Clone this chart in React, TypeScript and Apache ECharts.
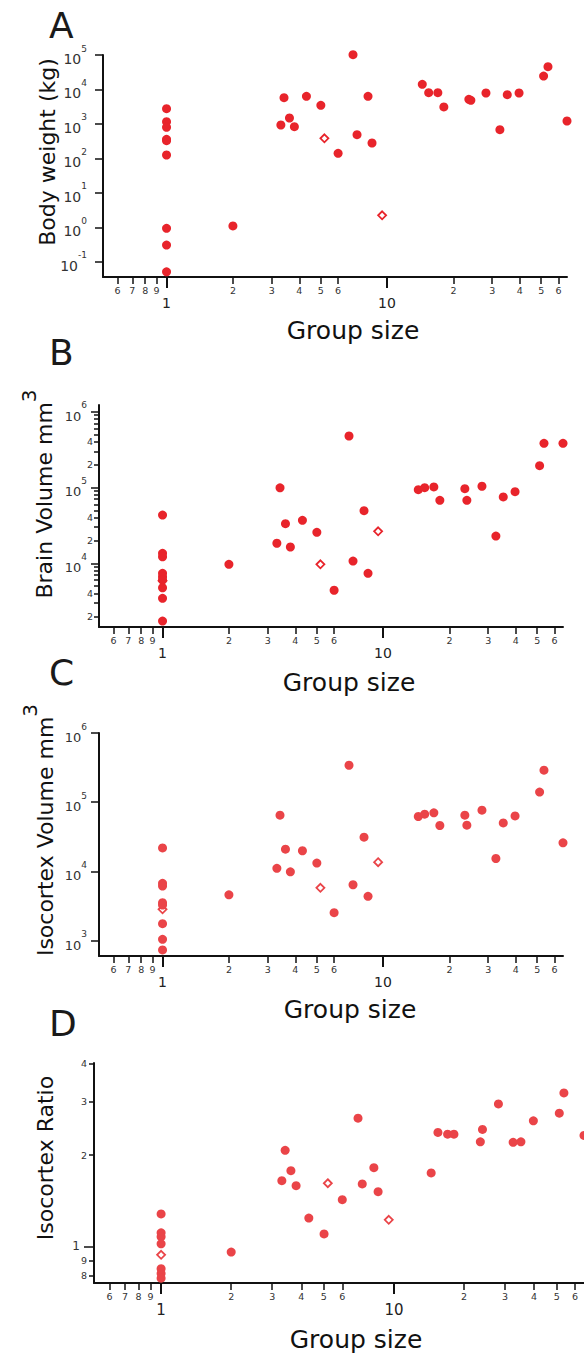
import React, { useEffect, useRef } from "react";
import * as echarts from "echarts";

// Group sizes of the social species (x values shared by all four panels)
const groupSizes = [2, 3.3, 3.41, 3.61, 3.8, 4.31, 5.01, 6.0, 7.01, 7.31, 8.2, 8.55, 14.45, 15.45, 17.0, 18.1, 23.5, 24.0, 28.1, 32.5, 35.1, 39.7, 51.3, 53.7, 65.5];

const bodyWeight = [1.09, 929, 5770, 1483, 830, 6320, 3470, 140, 102000, 486, 6320, 279, 14100, 8060, 8060, 3100, 5180, 4840, 7890, 680, 7050, 7890, 24500, 45700, 1214];
const brainVolume = [9700, 18400, 99000, 33300, 16400, 36900, 25600, 4410, 478000, 10700, 49400, 7380, 93500, 99300, 101600, 67700, 96400, 67700, 103800, 22900, 75000, 88100, 194000, 383000, 383000];
const isocortexVolume = [4600, 11100, 65000, 21000, 9890, 19900, 13200, 2540, 342000, 6430, 31300, 4370, 62200, 67100, 70200, 46100, 65000, 46600, 76700, 15400, 50300, 63500, 140000, 290000, 25900];
const isocortexRatio = [0.958, 1.647, 2.073, 1.776, 1.586, 1.24, 1.1, 1.426, 2.646, 1.607, 1.817, 1.515, 1.746, 2.375, 2.344, 2.344, 2.212, 2.429, 2.948, 2.202, 2.212, 2.593, 2.748, 3.203, 2.321];

// Solitary species (group size 1)
const solitaryGroupSize = 1;
const solitaryBodyWeight = [2760, 1158, 797, 357, 325, 125, 0.93, 0.305, 0.051];
const solitaryBrainVolume = [43300, 13550, 12200, 7380, 6660, 6030, 4760, 3450, 1730];
const solitaryIsocortexVolume = [21900, 6730, 6150, 3530, 3270, 1760, 1047, 735];
const solitaryIsocortexRatio = [1.28, 1.109, 1.076, 1.02, 0.845, 0.814, 0.786];

// Open-diamond species
const openGroupSizes = [1, 5.2, 9.5];
const openBodyWeight = [null, 382, 2.22];
const openBrainVolume = [5900, 9700, 26400];
const openIsocortexVolume = [2840, 5810, 13600];
const openIsocortexRatio = [0.939, 1.615, 1.224];

// Tick values
const xMinorTicks = [0.6, 0.7, 0.8, 0.9, 2, 3, 4, 5, 6, 20, 30, 40, 50, 60];
const xMajorTicks = [1, 10];
const bodyWeightTicks = [0.1, 1, 10, 100, 1000, 10000, 100000];
const brainVolumeTicks = [1e4, 1e5, 1e6];
const brainVolumeMinorTicks = [2e3, 3e3, 4e3, 5e3, 6e3, 7e3, 8e3, 9e3, 2e4, 3e4, 4e4, 5e4, 6e4, 7e4, 8e4, 9e4, 2e5, 3e5, 4e5, 5e5, 6e5, 7e5, 8e5, 9e5];
const brainVolumeMinorLabels = [2e3, 4e3, 2e4, 4e4, 2e5, 4e5];
const isocortexVolumeTicks = [1e3, 1e4, 1e5, 1e6];
const ratioMajorTicks = [1];
const ratioMinorTicks = [0.8, 0.9, 2, 3, 4];

const FONT = "DejaVu Sans";
const INK = "#111";
const LABEL = "#333";
const lg = (v: number) => Math.log10(v);
const mantissa = (v: number) => String(Math.round(Math.pow(10, v - Math.floor(v + 1e-9))));
const power = (v: number) => `{b|10}{s|${Math.round(v)}}`;

type Panel = {
  letter: string;
  yName: string;
  ySup: string;
  grid: { left: number; top: number; width: number; height: number };
  xMin: number;
  xMax: number;
  yMin: number;
  yMax: number;
  values: number[];
  solitary: number[];
  open: (number | null)[];
  color: string;
  yMajor: number[];
  yMajorFmt: (v: number) => string;
  yMajorFont: number;
  yMajorMargin: number;
  yMajorLen: number;
  yMinorTicks?: number[];
  yMinorLabels?: number[];
  yMinorMargin?: number;
  letterPos: [number, number];
  xTitlePos: [number, number];
  yTitlePos: [number, number];
  xBigFont: number;
};

const panels: Panel[] = [
  {
    letter: "A", yName: "Body weight (kg)", ySup: "",
    grid: { left: 103, top: 55, width: 464, height: 222 },
    xMin: 0.515, xMax: 65.5, yMin: 0.036, yMax: 1e5,
    values: bodyWeight, solitary: solitaryBodyWeight, open: openBodyWeight,
    color: "#e8242b",
    yMajor: bodyWeightTicks, yMajorFmt: power, yMajorFont: 14, yMajorMargin: 16, yMajorLen: 8,
    letterPos: [49, 25], xTitlePos: [353, 330], yTitlePos: [40, 152], xBigFont: 14,
  },
  {
    letter: "B", yName: "Brain Volume mm", ySup: "3",
    grid: { left: 99, top: 405, width: 464, height: 222 },
    xMin: 0.515, xMax: 65.5, yMin: 1445, yMax: 1.225e6,
    values: brainVolume, solitary: solitaryBrainVolume, open: openBrainVolume,
    color: "#e8242b",
    yMajor: brainVolumeTicks, yMajorFmt: power, yMajorFont: 13, yMajorMargin: 12, yMajorLen: 8,
    yMinorTicks: brainVolumeMinorTicks, yMinorLabels: brainVolumeMinorLabels, yMinorMargin: 6,
    letterPos: [49, 352], xTitlePos: [349, 682], yTitlePos: [37, 494], xBigFont: 14,
  },
  {
    letter: "C", yName: "Isocortex Volume mm", ySup: "3",
    grid: { left: 99, top: 733, width: 464, height: 223 },
    xMin: 0.515, xMax: 65.5, yMin: 601, yMax: 1e6,
    values: isocortexVolume, solitary: solitaryIsocortexVolume, open: openIsocortexVolume,
    color: "#ea4448",
    yMajor: isocortexVolumeTicks, yMajorFmt: power, yMajorFont: 13, yMajorMargin: 12, yMajorLen: 8,
    letterPos: [49, 672], xTitlePos: [350, 1009], yTitlePos: [38, 830], xBigFont: 14,
  },
  {
    letter: "D", yName: "Isocortex Ratio", ySup: "",
    grid: { left: 94, top: 1063, width: 491, height: 220 },
    xMin: 0.515, xMax: 65.5, yMin: 0.758, yMax: 4.02,
    values: isocortexRatio, solitary: solitaryIsocortexRatio, open: openIsocortexRatio,
    color: "#ea4448",
    yMajor: ratioMajorTicks, yMajorFmt: mantissa, yMajorFont: 12, yMajorMargin: 14, yMajorLen: 10,
    yMinorTicks: ratioMinorTicks, yMinorLabels: ratioMinorTicks, yMinorMargin: 7,
    letterPos: [49, 1023], xTitlePos: [356, 1339], yTitlePos: [38, 1158], xBigFont: 15,
  },
];

function buildOption() {
  const grid: any[] = [];
  const xAxis: any[] = [];
  const yAxis: any[] = [];
  const series: any[] = [];
  const graphic: any[] = [];

  panels.forEach((p, i) => {
    grid.push({ ...p.grid, containLabel: false });

    const xData = xAxis.length;
    xAxis.push({ type: "log", gridIndex: i, min: p.xMin, max: p.xMax, show: false });
    xAxis.push({
      type: "value", gridIndex: i, position: "bottom", min: lg(p.xMin), max: lg(p.xMax),
      axisLine: { show: true, onZero: false, lineStyle: { color: INK, width: 2 } },
      axisTick: { show: true, customValues: xMinorTicks.map(lg), length: 7, lineStyle: { color: INK, width: 1.5 } },
      axisLabel: { show: true, customValues: xMinorTicks.map(lg), formatter: mantissa, fontSize: 9.5, margin: 8, color: LABEL, fontFamily: FONT },
      splitLine: { show: false },
    });
    xAxis.push({
      type: "value", gridIndex: i, position: "bottom", min: lg(p.xMin), max: lg(p.xMax),
      axisLine: { show: false, onZero: false },
      axisTick: { show: true, customValues: xMajorTicks.map(lg), length: 11, lineStyle: { color: INK, width: 2 } },
      axisLabel: { show: true, customValues: xMajorTicks.map(lg), formatter: (v: number) => String(Math.round(Math.pow(10, v))), fontSize: p.xBigFont, margin: 19, color: "#222", fontFamily: FONT },
      splitLine: { show: false },
    });

    const yData = yAxis.length;
    yAxis.push({ type: "log", gridIndex: i, min: p.yMin, max: p.yMax, show: false });
    yAxis.push({
      type: "value", gridIndex: i, position: "left", min: lg(p.yMin), max: lg(p.yMax),
      axisLine: { show: true, onZero: false, lineStyle: { color: INK, width: 2 } },
      axisTick: { show: true, customValues: p.yMajor.map(lg), length: p.yMajorLen, lineStyle: { color: INK, width: 1.5 } },
      axisLabel: {
        show: true, customValues: p.yMajor.map(lg), formatter: p.yMajorFmt, margin: p.yMajorMargin,
        color: LABEL, fontFamily: FONT, fontSize: p.yMajorFont,
        rich: {
          b: { fontSize: p.yMajorFont, lineHeight: 22, verticalAlign: "bottom", color: LABEL, fontFamily: FONT },
          s: { fontSize: 9, lineHeight: 11, verticalAlign: "top", color: LABEL, fontFamily: FONT },
        },
      },
      splitLine: { show: false },
    });
    if (p.yMinorTicks) {
      yAxis.push({
        type: "value", gridIndex: i, position: "left", min: lg(p.yMin), max: lg(p.yMax),
        axisLine: { show: false, onZero: false },
        axisTick: { show: true, customValues: p.yMinorTicks.map(lg), length: 5, lineStyle: { color: INK, width: 1.5 } },
        axisLabel: { show: true, customValues: (p.yMinorLabels || []).map(lg), formatter: mantissa, margin: p.yMinorMargin, color: LABEL, fontFamily: FONT, fontSize: 9.5 },
        splitLine: { show: false },
      });
    }

    const openData: number[][] = [];
    openGroupSizes.forEach((g, k) => {
      const v = p.open[k];
      if (v != null) openData.push([g, v]);
    });
    series.push({
      type: "scatter", xAxisIndex: xData, yAxisIndex: yData, clip: false, silent: true,
      symbol: "diamond", symbolSize: 8, z: 2,
      itemStyle: { color: "#ffffff", borderColor: p.color, borderWidth: 1.8, opacity: 1 },
      data: openData,
    });
    const filled: number[][] = p.solitary.map((v) => [solitaryGroupSize, v]).concat(groupSizes.map((g, k) => [g, p.values[k]]));
    series.push({
      type: "scatter", xAxisIndex: xData, yAxisIndex: yData, clip: false, silent: true,
      symbol: "circle", symbolSize: 9, z: 3,
      itemStyle: { color: p.color, opacity: 1 },
      data: filled,
    });

    graphic.push({
      type: "text", x: p.letterPos[0], y: p.letterPos[1], silent: true,
      style: { text: p.letter, fontSize: 36, fontFamily: FONT, fill: "#1a1a1a", align: "left", verticalAlign: "middle" },
    });
    graphic.push({
      type: "text", x: p.xTitlePos[0], y: p.xTitlePos[1], silent: true,
      style: { text: "Group size", fontSize: 25, fontFamily: FONT, fill: "#111", align: "center", verticalAlign: "middle" },
    });
    graphic.push({
      type: "text", x: p.yTitlePos[0], y: p.yTitlePos[1], rotation: Math.PI / 2, silent: true,
      style: {
        text: p.ySup ? `{m|${p.yName}}{s|${p.ySup}}` : `{m|${p.yName}}`,
        align: "center", verticalAlign: "middle", fill: "#111",
        rich: {
          m: { fontSize: 22, fontFamily: FONT, fill: "#111", lineHeight: 36, verticalAlign: "bottom" },
          s: { fontSize: 20, fontFamily: FONT, fill: "#111", lineHeight: 16, verticalAlign: "top" },
        },
      },
    });
  });

  return { animation: false, backgroundColor: "#ffffff", grid, xAxis, yAxis, series, graphic };
}

export default function App() {
  const ref = useRef<HTMLDivElement>(null);
  useEffect(() => {
    document.body.style.margin = "0";
    if (!ref.current) return;
    const chart = echarts.init(ref.current, null, { renderer: "svg" });
    chart.setOption(buildOption() as any);
    return () => chart.dispose();
  }, []);
  return <div ref={ref} style={{ position: "absolute", left: 0, top: 0, width: 584, height: 1355, background: "#fff" }} />;
}
